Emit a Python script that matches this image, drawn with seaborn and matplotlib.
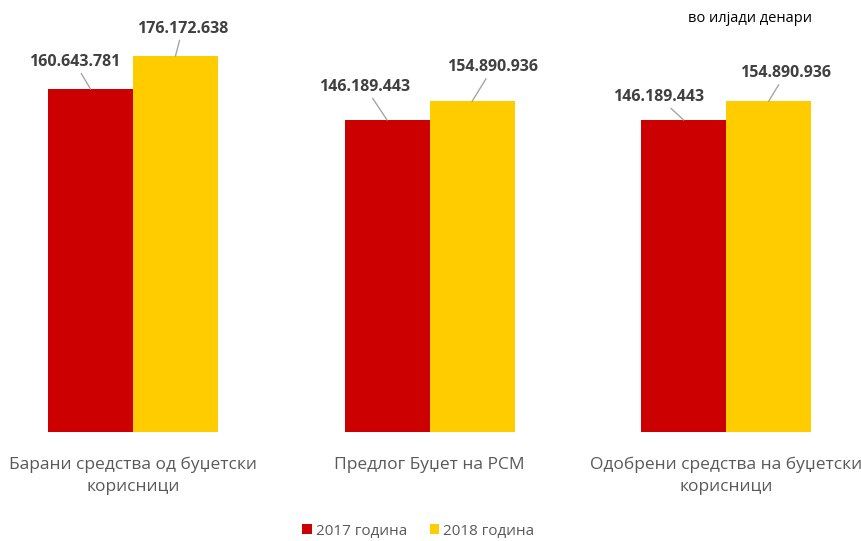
import matplotlib
matplotlib.use("Agg")
import matplotlib.pyplot as plt
import seaborn as sns
import pandas as pd

categories = ["Барани средства од буџетски\nкорисници",
              "Предлог Буџет на РСМ",
              "Одобрени средства на буџетски\nкорисници"]
series_names = ["2017 година", "2018 година"]
values_2017 = [160643781, 146189443, 146189443]
values_2018 = [176172638, 154890936, 154890936]
label_texts_2017 = ["160.643.781", "146.189.443", "146.189.443"]
label_texts_2018 = ["176.172.638", "154.890.936", "154.890.936"]
unit_note = "во илјади денари"

# label offsets (pixels) for leader-line labels
offsets_2017 = [(-16, 27), (-22, 33), (-25, 23)]
offsets_2018 = [(7, 27), (21, 34), (17, 28)]

df = pd.DataFrame({
    "category": categories * 2,
    "series": [series_names[0]] * 3 + [series_names[1]] * 3,
    "value": values_2017 + values_2018,
})

sns.set_theme(style="white")
plt.rcParams["font.family"] = ["Open Sans", "DejaVu Sans"]

fig = plt.figure(figsize=(8.61, 5.41), dpi=100)
ax = fig.add_axes([0.0, 0.2015, 1.0, 0.789])

palette = {"2017 година": "#CC0000", "2018 година": "#FFCC00"}
sns.barplot(data=df, x="category", y="value", hue="series", palette=palette,
            width=0.573, gap=0, saturation=1, linewidth=0, ax=ax, legend=True)

ax.set_ylim(0, 200e6)
ax.set_xlim(-0.4486, 2.455)
for s in ax.spines.values():
    s.set_visible(False)
ax.set_yticks([])
ax.set_xlabel("")
ax.set_ylabel("")
ax.tick_params(axis="x", length=0, pad=18, labelsize=12.5, labelcolor="#595959")
for t in ax.get_xticklabels():
    t.set_linespacing(1.45)

# data labels with leader lines
px2pt = 72 / 100.0
for container, texts, offs in zip(ax.containers, [label_texts_2017, label_texts_2018],
                                   [offsets_2017, offsets_2018]):
    for bar, txt, (dx, dy) in zip(container, texts, offs):
        xc = bar.get_x() + bar.get_width() / 2
        yt = bar.get_height()
        ax.annotate(txt, xy=(xc, yt), xytext=(dx * px2pt, dy * px2pt),
                    textcoords="offset points", ha="center", va="center",
                    fontsize=11.5, fontweight="bold", color="#404040",
                    arrowprops=dict(arrowstyle="-", color="#A6A6A6", lw=1,
                                    shrinkA=0, shrinkB=0))

fig.text(750 / 861, 1 - 18 / 541, unit_note, ha="center", va="center",
         fontsize=10.5, color="#000000")

leg = ax.get_legend()
leg.remove()
handles, labels = ax.get_legend_handles_labels()
fig.legend(handles[:2], labels[:2], loc="center", bbox_to_anchor=(418.5 / 861, 10 / 541),
           ncol=2, frameon=False, handlelength=0.65, handleheight=0.65,
           handletextpad=0.26, columnspacing=1.44, fontsize=11,
           labelcolor="#595959", borderpad=0.1)

fig.savefig("out.png", dpi=100)
